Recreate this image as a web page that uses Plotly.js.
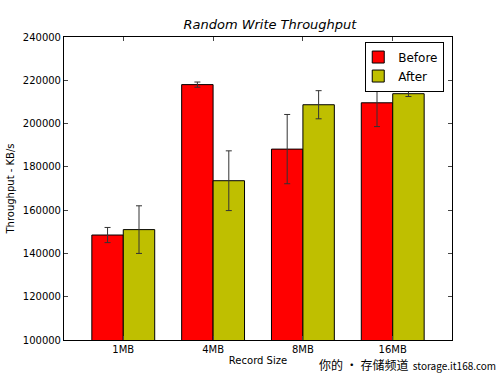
<!DOCTYPE html>
<html><head><meta charset="utf-8">
<script src="https://cdn.plot.ly/plotly-3.0.1.min.js"></script>
<style>body{margin:0;background:#fff}#c{width:500px;height:377px}</style>
</head><body><div id="c"></div>
<script>
var categories = ["1MB", "4MB", "8MB", "16MB"];
var beforeVals = [148500, 218000, 188200, 209600];
var beforeErr = [3500, 1200, 16000, 11000];
var afterVals = [151000, 173600, 208700, 213800];
var afterErr = [11000, 13800, 6500, 1300];
var yTicks = [100000, 120000, 140000, 160000, 180000, 200000, 220000, 240000];

var font = "DejaVu Sans, sans-serif";
var traces = [
  {type: "bar", name: "Before", x: categories, y: beforeVals,
   marker: {color: "#ff0000", line: {color: "#000", width: 1}},
   error_y: {type: "data", array: beforeErr, visible: true, color: "#333", thickness: 1, width: 3}},
  {type: "bar", name: "After", x: categories, y: afterVals,
   marker: {color: "#bfbf00", line: {color: "#000", width: 1}},
   error_y: {type: "data", array: afterErr, visible: true, color: "#333", thickness: 1, width: 3}}
];
var layout = {
  width: 500, height: 377,
  margin: {l: 64, r: 48, t: 37, b: 37},
  paper_bgcolor: "#fff", plot_bgcolor: "#fff",
  barmode: "group", bargap: 0.3, bargroupgap: 0,
  showlegend: true,
  title: {text: "Random Write Throughput", font: {family: font, size: 13, style: "italic", color: "#000"}, x: 0.54, xanchor: "center", y: 0.935, yanchor: "middle"},
  font: {family: font, size: 10, color: "#000"},
  xaxis: {type: "category", range: [-0.66, 3.66], ticks: "inside", ticklen: 4, mirror: "ticks",
    showline: true, linecolor: "#000", linewidth: 1, showgrid: false, zeroline: false,
    tickfont: {family: font, size: 10},
    title: {text: "Record Size", font: {family: font, size: 10}, standoff: 2}},
  yaxis: {range: [100000, 240000], tickvals: yTicks, ticktext: yTicks.map(String),
    ticks: "inside", ticklen: 4, mirror: "ticks", showline: true, linecolor: "#000", linewidth: 1,
    showgrid: false, zeroline: false, tickfont: {family: font, size: 10},
    title: {text: "Throughput - KB/s", font: {family: font, size: 10}, standoff: 6}},
  legend: {x: 0.98, y: 0.985, xanchor: "right", yanchor: "top", bgcolor: "#fff",
    bordercolor: "#000", borderwidth: 1, font: {family: font, size: 12},
    itemwidth: 30, tracegroupgap: 0, indentation: -8},
  annotations: [{xref: "paper", yref: "paper", x: 0.652, y: -0.08, xanchor: "left", yanchor: "middle",
    showarrow: false, text: "<span style='font-size:12px'>你的 • 存储频道</span>  storage.it168.com",
    font: {family: "Noto Sans CJK SC, sans-serif", size: 10, color: "#000"}}]
};
Plotly.newPlot("c", traces, layout, {displayModeBar: false, staticPlot: true});
</script></body></html>
